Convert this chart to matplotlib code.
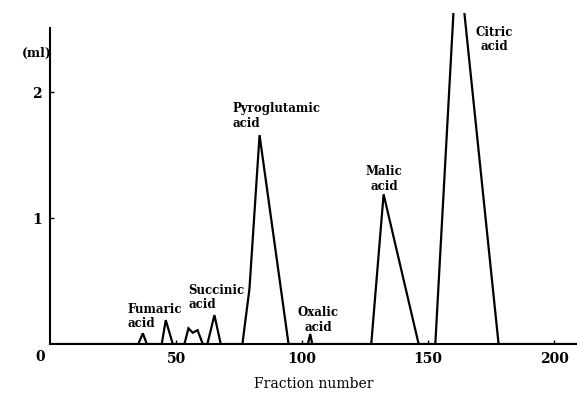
import matplotlib
matplotlib.use('Agg')
import matplotlib.pyplot as plt

plt.rcParams['font.family'] = ['DejaVu Serif']

# elution profile (fraction number vs. ml of titrant)
fraction = [0, 35.0, 36.8, 38.4, 44.3, 45.9, 48.7, 53.3, 54.9, 56.6, 58.5, 60.6,
            62.4, 65.2, 67.7, 76.3, 79.1, 83.1, 94.6, 102.3, 103.2, 104.0,
            127.4, 132.3, 146.2, 152.8, 161.5, 177.9, 209]
volume = [0, 0, 0.085, 0, 0, 0.19, 0, 0, 0.125, 0.09, 0.11, 0,
          0, 0.23, 0, 0, 0.44, 1.66, 0, 0, 0.08, 0,
          0, 1.19, 0, 0, 3.18, 0, 0]

acid_names = ['Fumaric\nacid', 'Succinic\nacid', 'Pyroglutamic\nacid',
              'Oxalic\nacid', 'Malic\nacid', 'Citric\nacid']
label_x = [30.6, 54.8, 72.2, 106.3, 132.5, 176.2]
label_y = [0.22, 0.37, 1.81, 0.19, 1.31, 2.42]
label_ha = ['left', 'left', 'left', 'center', 'center', 'center']

x_ticks = [50, 100, 150, 200]
y_ticks = [1, 2]

fig = plt.figure(figsize=(5.77, 3.95), dpi=100)
ax = fig.add_axes([0.0867, 0.129, 0.9133, 0.838])

ax.plot(fraction, volume, color='black', lw=1.6, solid_joinstyle='miter')
ax.set_xlim(0, 209)
ax.set_ylim(0, 2.63)

for s in ['top', 'right']:
    ax.spines[s].set_visible(False)
for s in ['left', 'bottom']:
    ax.spines[s].set_linewidth(1.5)
ax.spines['left'].set_bounds(0, 2.51)

ax.set_xticks(x_ticks)
ax.set_yticks(y_ticks)
ax.tick_params(direction='in', length=3, width=1, pad=6, labelsize=10)
for t in ax.get_xticklabels() + ax.get_yticklabels():
    t.set_fontweight('bold')

ax.text(-4.0, -0.103, '0', ha='center', va='center', fontsize=10,
        fontweight='bold', clip_on=False)
ax.text(0.6, 2.31, '(ml)', ha='right', va='center', fontsize=9,
        fontweight='bold', clip_on=False)

for name, lx, ly, ha in zip(acid_names, label_x, label_y, label_ha):
    ax.text(lx, ly, name, ha=ha, va='center', fontsize=8.5, fontweight='bold',
            linespacing=1.15)

ax.set_xlabel('Fraction number', fontsize=10, labelpad=8)

fig.savefig('out.png', dpi=100, facecolor='white')
